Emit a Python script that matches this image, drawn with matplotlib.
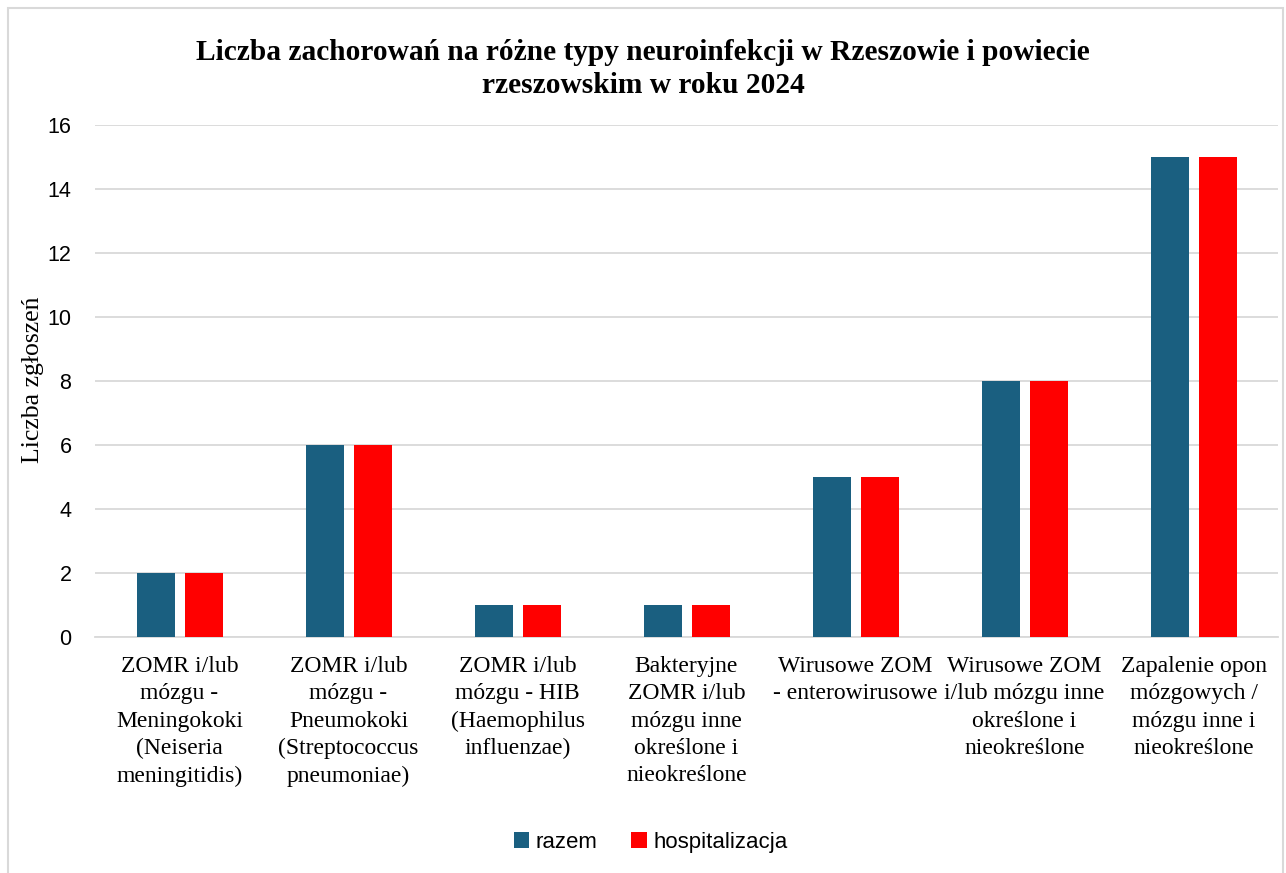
import matplotlib.pyplot as plt
import numpy as np
from matplotlib.patches import Rectangle

categories = [
    "ZOMR i/lub\nmózgu -\nMeningokoki\n(Neiseria\nmeningitidis)",
    "ZOMR i/lub\nmózgu -\nPneumokoki\n(Streptococcus\npneumoniae)",
    "ZOMR i/lub\nmózgu - HIB\n(Haemophilus\ninfluenzae)",
    "Bakteryjne\nZOMR i/lub\nmózgu inne\nokreślone i\nnieokreślone",
    "Wirusowe ZOM\n- enterowirusowe",
    "Wirusowe ZOM\ni/lub mózgu inne\nokreślone i\nnieokreślone",
    "Zapalenie opon\nmózgowych /\nmózgu inne i\nnieokreślone",
]
razem = [2, 6, 1, 1, 5, 8, 15]
hospitalizacja = [2, 6, 1, 1, 5, 8, 15]

serif = "Liberation Serif"
sans = "Liberation Sans"

fig = plt.figure(figsize=(12.86, 8.73), dpi=100)
ax = fig.add_axes([0.0739, 0.2707, 0.9199, 0.5865])

x = np.arange(len(categories))
w = 0.225
off = 0.142
ax.bar(x - off, razem, w, color="#1a5f80", label="razem", zorder=3)
ax.bar(x + off, hospitalizacja, w, color="#ff0000", label="hospitalizacja", zorder=3)

ax.set_xlim(-0.5, len(categories) - 0.5)
ax.set_ylim(0, 16)
ax.set_yticks(range(0, 17, 2))
ax.yaxis.grid(True, color="#d9d9d9", linewidth=1.3, zorder=0)
for s in ["top", "right", "left"]:
    ax.spines[s].set_visible(False)
ax.spines["bottom"].set_color("#d9d9d9")
ax.spines["bottom"].set_linewidth(1.3)
ax.tick_params(axis="both", length=0)
ax.tick_params(axis="y", labelsize=15.5, pad=17)
for t in ax.get_yticklabels():
    t.set_fontfamily(sans)
ax.set_xticks(x)
ax.set_xticklabels(categories, fontsize=17, fontfamily=serif, linespacing=1.39)
ax.tick_params(axis="x", pad=14)

fig.text(0.026, 0.5645, "Liczba zgłoszeń", rotation=90, fontsize=18.5,
         fontfamily=serif, ha="center", va="center")
fig.text(0.5, 0.921, "Liczba zachorowań na różne typy neuroinfekcji w Rzeszowie i powiecie\nrzeszowskim w roku 2024",
         fontsize=21.2, fontweight="bold", fontfamily=serif, ha="center", va="center",
         linespacing=1.25)

fig.legend(loc="center", bbox_to_anchor=(0.506, 0.035), ncol=2, frameon=False,
           prop={"family": sans, "size": 16}, handlelength=0.7, handleheight=0.7,
           handletextpad=0.3, columnspacing=1.5)

fig.patches.append(Rectangle((8 / 1286, -0.01), 1275 / 1286, 1 - 8 / 873 + 0.01,
                             transform=fig.transFigure, fill=False,
                             edgecolor="#d9d9d9", linewidth=1.5))

fig.savefig("out.png", dpi=100)
